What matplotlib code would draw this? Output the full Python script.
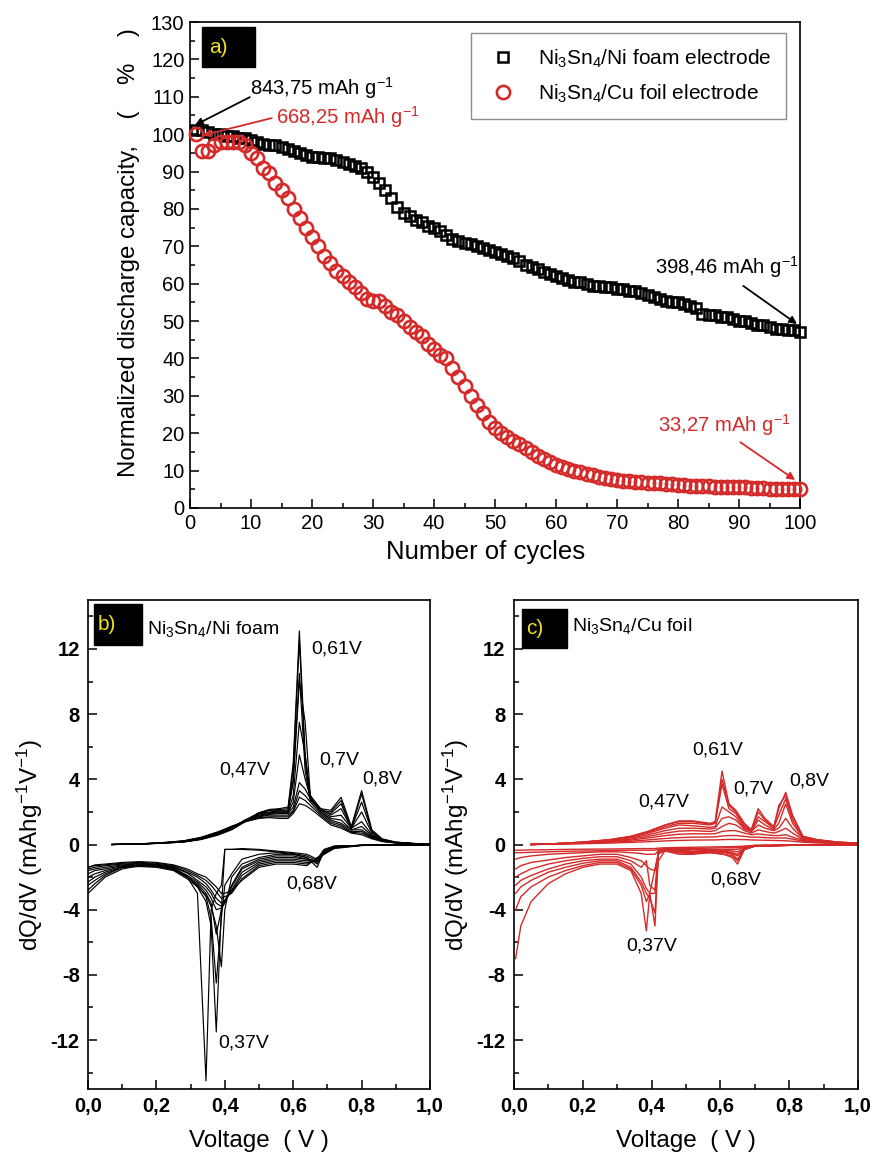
import numpy as np
import matplotlib
matplotlib.use("Agg")
import matplotlib.pyplot as plt
from matplotlib.patches import Rectangle
from matplotlib.ticker import MultipleLocator, FuncFormatter

plt.rcParams['font.family'] = ['Liberation Sans', 'DejaVu Sans']
plt.rcParams['mathtext.fontset'] = 'custom'
plt.rcParams['mathtext.rm'] = 'Liberation Sans'
plt.rcParams['mathtext.it'] = 'Liberation Sans:italic'
plt.rcParams['mathtext.bf'] = 'Liberation Sans:bold'
plt.rcParams['mathtext.default'] = 'regular'
plt.rcParams['axes.unicode_minus'] = False

RED = '#d42a2a'

# ---- a) normalized discharge capacity ----
cycles = np.arange(1, 101)
ni_foam = [101, 101, 100.5, 100, 100, 99.5, 99.5, 99, 99, 98.5,
           98, 97.5, 97, 97, 96.5, 96, 95.5, 95, 94.5, 94,
           94, 93.5, 93.5, 93, 92.5, 92, 91.5, 91, 90, 88.5,
           87, 85, 83, 80.5, 79, 78, 77, 76.5, 75.5, 75,
           74, 73, 72, 71.5, 71, 70.5, 70, 69.5, 69, 68.5,
           68, 67.5, 67, 66, 65, 64.5, 64, 63, 62.5, 62,
           61.5, 61, 60.5, 60.5, 60, 59.5, 59.5, 59, 59, 58.5,
           58.5, 58, 58, 57.5, 57, 56.5, 56, 55.5, 55, 55,
           54.5, 54, 53.5, 52, 51.5, 51.5, 51, 51, 50.5, 50,
           50, 49.5, 49, 49, 48.5, 48, 48, 47.5, 47.5, 47]
cu_foil = [100, 95.5, 95.5, 97, 98, 98, 98, 98, 97, 95,
           93.5, 91, 89.5, 87, 85, 83, 80, 77.5, 75, 72.5,
           70, 67.5, 65.5, 63.5, 62, 60.5, 59, 57.5, 56, 55.5,
           55.5, 54, 52.5, 51.5, 50, 48.5, 47, 46, 44, 42.5,
           41, 40, 37.5, 35, 32.5, 30, 27.5, 25.5, 23, 21.5,
           20, 19, 18, 17, 16, 15, 14, 13, 12.3, 11.5,
           11, 10.5, 10, 9.5, 9.1, 8.7, 8.3, 8, 7.7, 7.5,
           7.3, 7.1, 7, 6.9, 6.8, 6.7, 6.6, 6.5, 6.4, 6.2,
           6.1, 6, 5.9, 5.9, 5.8, 5.7, 5.7, 5.6, 5.6, 5.5,
           5.5, 5.4, 5.4, 5.3, 5.2, 5.2, 5.1, 5.1, 5, 5]

# ---- b) Ni3Sn4/Ni foam dQ/dV ----
vb_ch = [0.07, 0.15, 0.22, 0.28, 0.33, 0.38, 0.42, 0.46, 0.50, 0.53, 0.56, 0.585, 0.60,
         0.618, 0.635, 0.65, 0.68, 0.71, 0.74, 0.77, 0.80, 0.83, 0.86, 0.90, 0.95, 1.00]
b_charge = [
    [0, 0.03, 0.08, 0.16, 0.32, 0.6, 0.95, 1.45, 1.95, 2.15, 2.2, 2.3, 5.0, 13.1, 5.5, 2.9, 2.2, 2.1, 2.9, 1.1, 3.3, 0.9, 0.35, 0.15, 0.07, 0.03],
    [0, 0.03, 0.08, 0.15, 0.3, 0.58, 0.9, 1.4, 1.9, 2.1, 2.15, 2.2, 4.6, 12.5, 5.0, 2.8, 2.1, 2.0, 2.7, 1.0, 3.1, 0.8, 0.3, 0.14, 0.06, 0.03],
    [0, 0.03, 0.09, 0.17, 0.33, 0.62, 0.98, 1.5, 1.95, 2.1, 2.1, 2.1, 4.0, 10.5, 4.5, 2.7, 2.1, 1.9, 2.5, 1.0, 2.6, 0.8, 0.3, 0.13, 0.06, 0.03],
    [0, 0.03, 0.09, 0.17, 0.34, 0.64, 1.0, 1.5, 1.9, 2.0, 2.05, 2.05, 3.8, 10.0, 7.5, 3.0, 2.2, 1.8, 2.2, 1.0, 2.0, 0.7, 0.3, 0.13, 0.06, 0.03],
    [0, 0.03, 0.1, 0.18, 0.35, 0.66, 1.02, 1.5, 1.85, 1.95, 2.0, 2.0, 3.0, 7.5, 5.5, 3.0, 2.1, 1.7, 1.8, 1.0, 1.4, 0.6, 0.28, 0.12, 0.06, 0.03],
    [0, 0.03, 0.1, 0.19, 0.36, 0.68, 1.05, 1.5, 1.8, 1.9, 1.95, 1.95, 2.6, 5.5, 4.0, 2.9, 2.0, 1.6, 1.5, 0.9, 1.1, 0.55, 0.25, 0.12, 0.05, 0.02],
    [0, 0.03, 0.1, 0.2, 0.38, 0.7, 1.08, 1.45, 1.75, 1.85, 1.9, 1.9, 2.3, 3.8, 3.4, 2.8, 2.0, 1.5, 1.3, 0.9, 0.9, 0.5, 0.25, 0.11, 0.05, 0.02],
    [0, 0.03, 0.11, 0.21, 0.4, 0.72, 1.1, 1.45, 1.7, 1.8, 1.8, 1.8, 2.1, 3.3, 3.0, 2.6, 1.9, 1.4, 1.2, 0.8, 0.8, 0.45, 0.22, 0.1, 0.05, 0.02],
    [0, 0.04, 0.11, 0.22, 0.42, 0.75, 1.1, 1.4, 1.65, 1.7, 1.7, 1.7, 2.0, 2.9, 2.7, 2.4, 1.8, 1.3, 1.1, 0.75, 0.7, 0.4, 0.2, 0.1, 0.05, 0.02],
    [0, 0.04, 0.12, 0.23, 0.44, 0.78, 1.12, 1.4, 1.6, 1.65, 1.6, 1.6, 1.9, 2.5, 2.4, 2.2, 1.7, 1.2, 1.0, 0.7, 0.6, 0.35, 0.18, 0.09, 0.04, 0.02],
]
vb_dis = [0.0, 0.02, 0.05, 0.1, 0.15, 0.2, 0.25, 0.29, 0.32, 0.345, 0.36, 0.375, 0.39,
          0.40, 0.42, 0.45, 0.5, 0.55, 0.6, 0.64, 0.67, 0.69, 0.72, 0.8, 0.9, 1.0]
b_discharge = [
    [-3.0, -2.6, -2.0, -1.5, -1.3, -1.3, -1.5, -2.0, -3.0, -14.5, -4.0, -3.0, -2.5, -0.3, -0.3, -0.25, -0.3, -0.4, -0.5, -0.6, -0.9, -0.3, -0.1, -0.05, -0.03, -0.02],
    [-2.8, -2.4, -1.9, -1.4, -1.25, -1.25, -1.45, -1.9, -2.6, -3.5, -5.0, -11.5, -4.0, -0.3, -0.3, -0.3, -0.35, -0.45, -0.55, -0.7, -1.0, -0.35, -0.12, -0.05, -0.03, -0.02],
    [-2.5, -2.2, -1.8, -1.4, -1.3, -1.3, -1.5, -2.0, -2.5, -3.2, -4.5, -8.5, -4.5, -2.5, -1.8, -0.9, -0.6, -0.5, -0.6, -0.8, -1.4, -0.4, -0.1, -0.05, -0.03, -0.02],
    [-2.3, -2.0, -1.7, -1.4, -1.35, -1.4, -1.6, -2.1, -2.6, -3.1, -3.8, -5.0, -7.5, -4.0, -2.0, -1.2, -0.8, -0.6, -0.6, -0.8, -1.2, -0.5, -0.15, -0.05, -0.03, -0.02],
    [-2.0, -1.8, -1.6, -1.35, -1.3, -1.35, -1.55, -2.0, -2.4, -3.0, -3.6, -5.5, -4.0, -3.5, -2.5, -1.4, -0.9, -0.7, -0.7, -0.9, -1.1, -0.5, -0.15, -0.05, -0.03, -0.02],
    [-1.8, -1.6, -1.5, -1.3, -1.25, -1.3, -1.5, -1.9, -2.3, -2.8, -3.3, -4.0, -3.9, -3.6, -2.6, -1.5, -1.0, -0.8, -0.8, -0.9, -1.0, -0.45, -0.12, -0.05, -0.03, -0.02],
    [-1.6, -1.5, -1.4, -1.25, -1.2, -1.25, -1.4, -1.75, -2.2, -2.6, -3.0, -3.6, -3.8, -3.5, -2.8, -1.7, -1.1, -0.9, -0.9, -1.0, -1.0, -0.5, -0.15, -0.05, -0.03, -0.02],
    [-1.5, -1.4, -1.3, -1.2, -1.15, -1.2, -1.35, -1.7, -2.0, -2.4, -2.8, -3.3, -3.6, -3.4, -2.9, -1.9, -1.2, -1.0, -1.0, -1.1, -1.0, -0.55, -0.2, -0.05, -0.03, -0.02],
    [-1.4, -1.3, -1.25, -1.15, -1.1, -1.15, -1.3, -1.6, -1.9, -2.2, -2.5, -2.9, -3.3, -3.2, -3.0, -2.1, -1.3, -1.1, -1.1, -1.2, -0.9, -0.6, -0.2, -0.06, -0.03, -0.02],
    [-1.4, -1.25, -1.2, -1.1, -1.05, -1.1, -1.25, -1.5, -1.8, -2.0, -2.3, -2.6, -3.0, -3.0, -2.8, -2.2, -1.4, -1.2, -1.2, -1.3, -0.8, -0.6, -0.25, -0.06, -0.03, -0.02],
]

# ---- c) Ni3Sn4/Cu foil dQ/dV ----
vc_ch = [0.05, 0.12, 0.2, 0.28, 0.34, 0.39, 0.44, 0.48, 0.52, 0.57, 0.585, 0.605, 0.625,
         0.645, 0.67, 0.69, 0.71, 0.73, 0.755, 0.77, 0.79, 0.81, 0.84, 0.88, 0.94, 1.0]
c_charge = [
    [0.0, 0.05, 0.15, 0.3, 0.5, 0.8, 1.2, 1.45, 1.45, 1.3, 1.4, 4.5, 2.5, 2.1, 1.3, 0.9, 2.2, 1.6, 1.1, 2.2, 3.2, 1.8, 0.5, 0.3, 0.15, 0.08],
    [0.0, 0.05, 0.15, 0.3, 0.5, 0.8, 1.2, 1.4, 1.4, 1.25, 1.35, 4.0, 2.4, 2.0, 1.2, 0.9, 2.0, 1.5, 1.0, 2.4, 3.0, 1.7, 0.5, 0.3, 0.15, 0.08],
    [0.0, 0.05, 0.14, 0.28, 0.48, 0.75, 1.1, 1.3, 1.3, 1.2, 1.3, 3.7, 2.2, 1.9, 1.1, 0.85, 1.7, 1.4, 1.0, 1.8, 2.8, 1.5, 0.45, 0.28, 0.14, 0.08],
    [0.0, 0.05, 0.13, 0.26, 0.45, 0.7, 1.0, 1.2, 1.15, 1.05, 1.1, 2.3, 2.0, 1.7, 1.0, 0.8, 1.5, 1.2, 0.9, 1.3, 2.5, 1.3, 0.4, 0.25, 0.13, 0.07],
    [0.0, 0.05, 0.12, 0.24, 0.4, 0.6, 0.85, 1.0, 1.0, 0.95, 1.0, 1.6, 1.7, 1.5, 0.95, 0.8, 1.2, 1.0, 0.85, 1.0, 1.6, 1.0, 0.35, 0.22, 0.12, 0.07],
    [0.0, 0.04, 0.1, 0.2, 0.33, 0.5, 0.7, 0.82, 0.85, 0.8, 0.85, 1.1, 1.3, 1.2, 0.85, 0.7, 0.9, 0.8, 0.7, 0.8, 1.0, 0.7, 0.3, 0.2, 0.1, 0.06],
    [0.0, 0.04, 0.09, 0.17, 0.27, 0.4, 0.55, 0.63, 0.66, 0.65, 0.66, 0.8, 0.85, 0.85, 0.7, 0.6, 0.65, 0.6, 0.55, 0.55, 0.6, 0.45, 0.25, 0.16, 0.09, 0.05],
    [0.0, 0.03, 0.07, 0.13, 0.2, 0.28, 0.37, 0.42, 0.45, 0.46, 0.47, 0.52, 0.55, 0.55, 0.5, 0.45, 0.45, 0.42, 0.4, 0.4, 0.4, 0.33, 0.2, 0.13, 0.08, 0.05],
    [0.0, 0.02, 0.05, 0.09, 0.13, 0.17, 0.22, 0.25, 0.27, 0.28, 0.28, 0.3, 0.31, 0.31, 0.3, 0.28, 0.27, 0.26, 0.25, 0.24, 0.23, 0.2, 0.14, 0.1, 0.06, 0.04],
]
vc_dis = [0.005, 0.02, 0.05, 0.1, 0.15, 0.2, 0.25, 0.3, 0.34, 0.37, 0.385, 0.395, 0.41,
          0.42, 0.44, 0.48, 0.52, 0.57, 0.61, 0.635, 0.65, 0.67, 0.7, 0.8, 0.9, 1.0]
c_discharge = [
    [-7.0, -5.0, -3.5, -2.4, -1.8, -1.4, -1.2, -1.2, -1.6, -3.0, -5.3, -3.0, -1.5, -0.5, -0.4, -0.5, -0.55, -0.5, -0.6, -0.8, -1.2, -0.3, -0.1, -0.05, -0.03, -0.02],
    [-4.0, -3.2, -2.6, -2.0, -1.6, -1.3, -1.1, -1.1, -1.5, -2.5, -3.5, -3.0, -5.0, -0.5, -0.4, -0.6, -0.6, -0.5, -0.6, -0.7, -1.0, -0.3, -0.1, -0.05, -0.03, -0.02],
    [-3.0, -2.6, -2.2, -1.7, -1.4, -1.15, -1.0, -1.0, -1.4, -2.3, -3.0, -3.3, -4.2, -0.4, -0.35, -0.5, -0.55, -0.45, -0.5, -0.6, -0.9, -0.3, -0.1, -0.05, -0.03, -0.02],
    [-2.5, -2.2, -1.9, -1.5, -1.2, -1.0, -0.9, -0.9, -1.2, -2.0, -2.7, -3.0, -3.0, -1.0, -0.35, -0.45, -0.5, -0.45, -0.45, -0.55, -0.7, -0.3, -0.1, -0.05, -0.03, -0.02],
    [-2.0, -1.8, -1.5, -1.2, -1.0, -0.85, -0.75, -0.75, -1.0, -1.4, -1.0, -2.5, -2.8, -0.3, -0.3, -0.4, -0.45, -0.4, -0.4, -0.5, -0.6, -0.25, -0.1, -0.05, -0.03, -0.02],
    [-1.5, -1.3, -1.1, -0.95, -0.8, -0.7, -0.6, -0.6, -0.8, -1.0, -1.3, -1.5, -1.6, -0.6, -0.3, -0.35, -0.4, -0.35, -0.35, -0.4, -0.45, -0.2, -0.08, -0.04, -0.03, -0.02],
    [-0.9, -0.8, -0.7, -0.6, -0.55, -0.5, -0.45, -0.45, -0.5, -0.55, -0.6, -0.6, -0.6, -0.4, -0.3, -0.3, -0.3, -0.3, -0.3, -0.3, -0.3, -0.15, -0.07, -0.04, -0.03, -0.02],
    [-0.5, -0.5, -0.48, -0.45, -0.42, -0.4, -0.38, -0.36, -0.35, -0.35, -0.35, -0.35, -0.35, -0.3, -0.25, -0.25, -0.25, -0.22, -0.2, -0.2, -0.2, -0.12, -0.06, -0.03, -0.02, -0.02],
    [-0.35, -0.35, -0.33, -0.32, -0.3, -0.29, -0.28, -0.27, -0.26, -0.25, -0.25, -0.25, -0.25, -0.22, -0.2, -0.18, -0.17, -0.15, -0.14, -0.13, -0.12, -0.1, -0.05, -0.03, -0.02, -0.01],
]

peak_labels = ['0,61V', '0,47V', '0,7V', '0,8V', '0,68V', '0,37V']
b_label_pos = [(0.652, 12.0), (0.385, 4.6), (0.677, 5.2), (0.803, 4.0), (0.581, -2.4), (0.38, -12.2)]
c_label_pos = [(0.517, 5.8), (0.361, 2.6), (0.639, 3.4), (0.80, 3.9), (0.571, -2.2), (0.327, -6.2)]


def style_ax(ax):
    for s in ax.spines.values():
        s.set_linewidth(1.2)
    ax.tick_params(which='both', direction='in', width=1.1, top=False, right=False)
    ax.tick_params(which='major', length=6.5)
    ax.tick_params(which='minor', length=3.6)


def tag_box(ax, x0, y0, w, h, txt):
    ax.add_patch(Rectangle((x0, y0), w, h, transform=ax.transAxes, color='black', zorder=5, clip_on=False))
    ax.text(x0 + 0.012, y0 + h / 2, txt, transform=ax.transAxes, color='#f0e020',
            fontsize=15, ha='left', va='center', zorder=6)


fig = plt.figure(figsize=(8.74, 11.59), dpi=100)

# ---------------- a) ----------------
ax = fig.add_axes([0.2174, 0.5617, 0.698, 0.4193])
ax.plot(cycles, ni_foam, ls='none', marker='s', ms=7, mfc='none', mec='black', mew=1.8,
        label='Ni$_3$Sn$_4$/Ni foam electrode', clip_on=False, zorder=3)
ax.plot(cycles, cu_foil, ls='none', marker='o', ms=9.5, mfc='none', mec=RED, mew=1.9,
        label='Ni$_3$Sn$_4$/Cu foil electrode', clip_on=False, zorder=4)
ax.set_xlim(0, 100)
ax.set_ylim(0, 130)
ax.xaxis.set_major_locator(MultipleLocator(10))
ax.xaxis.set_minor_locator(MultipleLocator(5))
ax.yaxis.set_major_locator(MultipleLocator(10))
ax.yaxis.set_minor_locator(MultipleLocator(5))
style_ax(ax)
ax.tick_params(labelsize=14.5, pad=4)
ax.set_xlabel('Number of cycles', fontsize=18.5)
ax.xaxis.set_label_coords(0.484, -0.066)
ax.set_ylabel('Normalized discharge capacity,    (    %    )', fontsize=17.3)
ax.yaxis.set_label_coords(-0.082, 0.525)
leg = ax.legend(loc='upper right', bbox_to_anchor=(0.977, 0.977), borderaxespad=0,
                fontsize=15, frameon=True, fancybox=False, edgecolor='#707070',
                handletextpad=0.9, labelspacing=0.6, borderpad=0.7, handlelength=1.6)
leg.get_frame().set_linewidth(1.0)
tag_box(ax, 0.0197, 0.907, 0.087, 0.083, 'a)')

arw = dict(arrowstyle='-|>', lw=1.3, mutation_scale=11, shrinkA=0, shrinkB=0)
ax.annotate('', xy=(0.8, 102.4), xytext=(9.8, 109.9), arrowprops=dict(arw, color='black'))
ax.text(9.8, 112.3, '843,75 mAh g$^{-1}$', fontsize=14.6, ha='left', va='center')
ax.annotate('', xy=(2.1, 99.7), xytext=(13.4, 104.3), arrowprops=dict(arw, color=RED))
ax.text(14.1, 104.5, '668,25 mAh g$^{-1}$', fontsize=14.6, ha='left', va='center', color=RED)
ax.annotate('', xy=(99.5, 49.2), xytext=(90.7, 59.4), arrowprops=dict(arw, color='black'))
ax.text(76.2, 64.4, '398,46 mAh g$^{-1}$', fontsize=14.6, ha='left', va='center')
ax.annotate('', xy=(99.2, 7.5), xytext=(90.2, 17.6), arrowprops=dict(arw, color=RED))
ax.text(76.7, 22.2, '33,27 mAh g$^{-1}$', fontsize=14.6, ha='left', va='center', color=RED)

# ---------------- b) and c) ----------------
comma = FuncFormatter(lambda v, p: ('%.1f' % v).replace('.', ','))
intfmt = FuncFormatter(lambda v, p: '%d' % round(v))


def dqdv_panel(rect, vch, charge, vdis, discharge, color, lw, tag, name, label_pos, tagbox, name_y):
    a = fig.add_axes(rect)
    for y in charge:
        a.plot(vch, y, color=color, lw=lw)
    for y in discharge:
        a.plot(vdis, y, color=color, lw=lw)
    a.set_xlim(0, 1.0)
    a.set_ylim(-15, 15)
    a.xaxis.set_major_locator(MultipleLocator(0.2))
    a.xaxis.set_minor_locator(MultipleLocator(0.1))
    a.yaxis.set_major_locator(MultipleLocator(4))
    a.yaxis.set_minor_locator(MultipleLocator(2))
    a.xaxis.set_major_formatter(comma)
    a.yaxis.set_major_formatter(intfmt)
    style_ax(a)
    a.tick_params(labelsize=14.5, pad=6)
    for t in a.get_xticklabels() + a.get_yticklabels():
        t.set_fontweight('bold')
    a.set_xlabel('Voltage  ( V )', fontsize=17.5, labelpad=10)
    a.set_ylabel('dQ/dV (mAhg$^{-1}$V$^{-1}$)', fontsize=17.5, labelpad=4)
    for txt, (x, y) in zip(peak_labels, label_pos):
        a.text(x, y, txt, fontsize=14, ha='left', va='center')
    tag_box(a, *tagbox, tag)
    a.text(tagbox[0] + tagbox[2] + 0.015, name_y, name,
           transform=a.transAxes, fontsize=14, ha='left', va='center')
    return a


dqdv_panel([0.1007, 0.0604, 0.3913, 0.4219], vb_ch, b_charge, vb_dis, b_discharge,
           'black', 0.85, 'b)', 'Ni$_3$Sn$_4$/Ni foam', b_label_pos, (0.0175, 0.908, 0.14, 0.084), 0.94)
dqdv_panel([0.588, 0.0604, 0.3936, 0.4219], vc_ch, c_charge, vc_dis, c_discharge,
           RED, 1.0, 'c)', 'Ni$_3$Sn$_4$/Cu foil', c_label_pos, (0.023, 0.902, 0.131, 0.08), 0.947)

fig.savefig('out.png', dpi=100)
